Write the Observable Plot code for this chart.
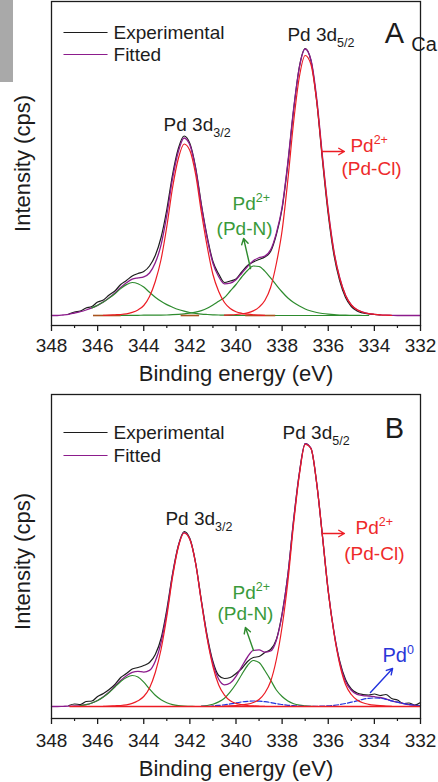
<!DOCTYPE html>
<html><head><meta charset="utf-8">
<script src="https://cdn.jsdelivr.net/npm/d3@7"></script>
<script src="https://cdn.jsdelivr.net/npm/@observablehq/plot@0.6"></script>
<style>
body{margin:0;background:#fff;}
#wrap{position:relative;width:438px;height:782px;overflow:hidden;font-family:"Liberation Sans",Arial,sans-serif;background:#fff;}
#wrap svg{display:block;}
#bar{position:absolute;left:0;top:0;width:13px;height:82px;background:#a9a9a9;}
</style></head><body><div id="wrap"><div id="bar"></div></div>
<script>
// ---------- data (binding energy grid, eV) ----------
const energy = [348,347.75,347.5,347.25,347,346.75,346.5,346.25,346,345.75,345.5,345.25,345,344.75,344.5,344.25,344,343.75,343.5,343.25,343,342.75,342.5,342.25,342,341.75,341.5,341.25,341,340.75,340.5,340.25,340,339.75,339.5,339.25,339,338.75,338.5,338.25,338,337.75,337.5,337.25,337,336.75,336.5,336.25,336,335.75,335.5,335.25,335,334.75,334.5,334.25,334,333.75,333.5,333.25,333,332.75,332.5,332.25,332];
const xTicks = [348,346,344,342,340,338,336,334,332];
const xTickLabels = ["348","346","344","342","340","338","336","334","332"];
const xMinorTicks = [347,345,343,341,339,337,335,333];

// Panel A
const fitA = [0,0,0.5,1.2,2.5,3.8,5.5,7.6,10.2,13.6,17.8,22.5,28,32.7,36.3,37.6,38.7,42.5,52.7,70.6,100.4,137,164,177.5,170.4,146.5,109.3,77.2,52.2,38.8,31.6,32.3,35.8,42.3,48.9,54.8,57.8,59.4,65.6,82.4,108.5,153.5,207,248.5,266.5,255.5,217,159,105.3,63.8,37.5,20.3,10.7,5.7,3.3,1.9,1.2,0.7,0.4,0.2,0,0,0,0,0];
const expAStart = 347.25;
const expA = [1.5,3.5,4.5,7.5,9,13.5,15.5,20.5,24.5,31,35,39.5,42,44,49.5,60,78,106,141,167,179.5,172,148,111,79,54,41.5,33,34.5,36.5,43.5,50,53.5,56,58.5,64,81,107,152,206,249,267,255,214,155,101,60,34.5,18,9,4.5,2.5,1.5,1,0.5];
const redA1Start = 345.75;
const redA1 = [0.2,0.4,0.7,1.0,1.7,3.1,5.6,10,19,34,56,89,128,157,171.5,165,141,103,69,41,24,13,7,3.8,2.2,1.3,0.7,0.4,0.2];
const redA2Start = 340.5;
const redA2 = [0.3,0.6,1.0,1.6,2.6,4.6,8.4,15,28,52,85,136,194,239,260,251,214,157,104,63,37,20,10.5,5.7,3.3,1.9,1.2,0.7,0.4,0.2];
const greenA1Start = 346.25;
const greenA1 = [7.6,10.2,13.4,17.4,21.8,26.9,30.9,33,31.8,28.4,23.2,18.3,14.2,10.9,8.3,6.0,4.3,3.0,2.1,1.4,1.0,0.7,0.5,0.3,0.2,0,0,0,0,0,0,0,0,0,0,0,0,0,0,0,0,0,0,0,0,0,0,0,0];
const greenA2Start = 345;
const greenA2 = [0.1,0.1,0.2,0.2,0.3,0.3,0.4,0.4,0.5,0.8,1.2,1.7,2.4,3.4,4.9,7.2,10.5,14.3,18,24.5,31,38.5,45,49.5,49,44.4,37.6,30.4,23.5,17.5,13,9.5,6.5,4.5,3,2,1.3,0.8,0.5,0.3,0.2,0.1,0,0];
const baseStartA = [346.2,342.4,339.6];
const baseEndA = [345.0,341.6,338.3];

// Panel B
const fitB = [0,0,0.2,0.4,0.5,0.8,1.8,3.5,6,9.7,14.4,20.2,26,30.7,34.1,35.2,34.4,36.1,45.2,63.8,93.8,131.4,160.4,173.9,167.2,143,105,69.2,42.8,27.2,21.7,23.5,30.1,39.9,49.5,56.1,56.6,54.3,55.5,66.3,92,131.7,186.6,233.7,262.8,258.3,223.2,170.4,115.7,74.2,43.9,25,16.3,12.1,10.9,10.4,9.8,9,7.7,5.6,4.3,3,1.9,1.2,0.7];
const expBStart = 347.25;
const expB = [1,2.5,2,5,5.5,10,13,17,22,29,33,37.5,39,41,44,52,68,97,133,161,175,168,143.5,106,71,45,31,28,29,33,38,45,49,50,54,57,67,93,132,187,234,263,258,223,170,115,74,45,27,17.5,13.5,12,11.5,12.5,11,12,8,6.5,3,3.5,1.5,4];
const redB1Start = 345.75;
const redB1 = [0.2,0.4,0.7,1.0,1.7,3.1,5.7,10,18.6,34,57,90,129.5,159.5,173.5,167,143,104.5,68,40,21.5,11.4,5.7,3.1,1.8,1,0.6,0.3,0.1];
const redB2Start = 340.5;
const redB2 = [0.3,0.6,1,1.5,2.3,4,7,13.5,25,47,80,125,183,232,262,258,223,170,115,73,42,22,12,6.5,3.7,2.2,1.3,0.8,0.5,0.2];
const greenB1Start = 346.75;
const greenB1 = [0.8,1.8,3.5,6,9.5,14,19.5,25,29,31,29.5,24.4,17.5,11.2,6.8,3.8,1.9,0.9,0.4,0.2,0];
const greenB2Start = 341.5;
const greenB2 = [0.4,1,2.2,4.6,8.3,14.6,22.5,32,41,46,44,36,26.5,16.5,10,5.5,2.8,1.3,0.6,0.2,0];
const blueBStart = 341.5;
const blueB = [0.1,0.2,0.6,1.1,1.7,2.6,3.5,4.6,5.2,5.5,5.3,4.8,4,2.8,2,1.2,0.8,0.4,0.2,0.1,0.2,0.4,0.7,1.2,1.9,3,4.3,5.6,7.2,8.2,8.5,8.2,7.2,5.6,4.3,3,1.9,1.2,0.7];

// ---------- styling ----------
const BLACK = "#1c1c1c", PURPLE = "#8c1c8c", RED = "#ec1c24", GREEN = "#2e8b2e",
      BLUE = "#2233dd", BROWN = "#a8541e";
const TXT_RED = "#ee2a2a", TXT_GREEN = "#3a9a3a", TXT_BLUE = "#2a36d8";
const FONT = "'Liberation Sans', Arial, sans-serif";

function series(start, vals) {
  const k = energy.indexOf(start);
  return vals.map((v, j) => ({e: energy[k + j], v}));
}

function applyScripts(svg) {
  svg.querySelectorAll("text").forEach(t => {
    const s = t.textContent;
    if (!/[_^]\{/.test(s)) return;
    const parts = s.split(/([_^]\{[^}]*\})/).filter(p => p);
    while (t.firstChild) t.removeChild(t.firstChild);
    let shift = 0;
    for (const p of parts) {
      const ts = document.createElementNS("http://www.w3.org/2000/svg", "tspan");
      const m = p.match(/^([_^])\{(.*)\}$/);
      if (m) {
        const d = m[1] === "_" ? 6 : -8;
        ts.setAttribute("dy", d - shift); shift = d;
        ts.setAttribute("font-size", "12.5");
        ts.textContent = m[2];
      } else {
        ts.setAttribute("dy", -shift); shift = 0;
        ts.textContent = p;
      }
      t.appendChild(ts);
    }
  });
}

function panel(cfg) {
  const ln = (data, stroke, w) => Plot.line(data, {x: "e", y: "v", stroke, strokeWidth: w, curve: "monotone-x"});
  const marks = [
    ln(cfg.exp, BLACK, 1.2),
    ln(cfg.fit, PURPLE, 1.3),
    ...cfg.comps,
    Plot.frame({stroke: BLACK, strokeWidth: 1.3}),
    Plot.axisX(xTicks, {anchor: "bottom", tickSize: 6, tickPadding: cfg.tickPad, fontSize: 19, strokeWidth: 1.3,
      label: null, tickFormat: d => xTickLabels[xTicks.indexOf(d)]}),
    Plot.axisX(xMinorTicks, {anchor: "bottom", tickSize: 3, strokeWidth: 1.2, label: null, tickFormat: () => ""}),
    Plot.text(["Binding energy (eV)"], {frameAnchor: "bottom", lineAnchor: "middle", textAnchor: "middle",
      dy: cfg.titleDy, fontSize: 22, fill: BLACK}),
    Plot.text(["Intensity (cps)"], {frameAnchor: "left", rotate: -90, textAnchor: "middle", lineAnchor: "middle",
      dx: -29, dy: cfg.yTitleDy, fontSize: 22, fill: BLACK}),
    // legend
    Plot.link([{y: cfg.legY[0], c: BLACK}, {y: cfg.legY[1], c: PURPLE}],
      {x1: 347.48, x2: 345.57, y1: "y", y2: "y", stroke: "c", strokeWidth: 1.2}),
    Plot.text([{y: cfg.legY[0], t: "Experimental"}, {y: cfg.legY[1], t: "Fitted"}],
      {x: 345.31, y: "y", text: "t", textAnchor: "start", fontSize: 19, fill: BLACK}),
    Plot.text(cfg.labels.filter(d => d.a === "start"), {x: "x", y: "y", text: "t", fill: "c", fontSize: "s", textAnchor: "start"}),
    Plot.text(cfg.labels.filter(d => d.a === "middle"), {x: "x", y: "y", text: "t", fill: "c", fontSize: "s", textAnchor: "middle"}),
    Plot.arrow(cfg.arrows, {x1: "x1", y1: "y1", x2: "x2", y2: "y2", stroke: "c", strokeWidth: 1.4, headLength: 7})
  ];
  const svg = Plot.plot({
    width: 438, height: cfg.height,
    marginLeft: 51, marginRight: 18, marginTop: cfg.mt, marginBottom: cfg.mb,
    x: {domain: [348, 332]},
    y: {domain: cfg.ydomain, axis: null},
    color: {type: "identity"},
    style: {fontFamily: FONT, color: BLACK, background: "transparent", overflow: "visible"},
    marks
  });
  applyScripts(svg);
  return svg;
}

const wrap = document.getElementById("wrap");

const svgA = panel({
  height: 390, mt: 1, mb: 65, ydomain: [-10, 314], tickPad: 7, titleDy: 48, yTitleDy: 0,
  fit: series(348, fitA), exp: series(expAStart, expA),
  comps: [
    Plot.line(series(greenA1Start, greenA1), {x: "e", y: "v", stroke: GREEN, strokeWidth: 1.2, curve: "monotone-x"}),
    Plot.line(series(greenA2Start, greenA2), {x: "e", y: "v", stroke: GREEN, strokeWidth: 1.2, curve: "monotone-x"}),
    Plot.link(baseStartA.map((s, i) => ({s, t: baseEndA[i]})), {x1: "s", x2: "t", y1: 0, y2: 0, stroke: BROWN, strokeWidth: 1.6}),
    Plot.line(series(redA1Start, redA1), {x: "e", y: "v", stroke: RED, strokeWidth: 1.2, curve: "monotone-x"}),
    Plot.line(series(redA2Start, redA2), {x: "e", y: "v", stroke: RED, strokeWidth: 1.2, curve: "monotone-x"})
  ],
  legY: [283, 261],
  labels: [
    {x: 337.77, y: 281, t: "Pd 3d_{5/2}", c: BLACK, s: 19, a: "start"},
    {x: 343.14, y: 191, t: "Pd 3d_{3/2}", c: BLACK, s: 19, a: "start"},
    {x: 333.55, y: 282, t: "A", c: BLACK, s: 29, a: "start"},
    {x: 332.40, y: 271, t: "Ca", c: BLACK, s: 20, a: "start"},
    {x: 335.04, y: 170, t: "Pd^{2+}", c: TXT_RED, s: 19, a: "start"},
    {x: 334.12, y: 147, t: "(Pd-Cl)", c: TXT_RED, s: 19, a: "middle"},
    {x: 340.15, y: 112, t: "Pd^{2+}", c: TXT_GREEN, s: 19, a: "start"},
    {x: 339.63, y: 87, t: "(Pd-N)", c: TXT_GREEN, s: 19, a: "middle"}
  ],
  arrows: [
    {x1: 336.25, y1: 164, x2: 335.3, y2: 164, c: RED},
    {x1: 339.37, y1: 47, x2: 339.67, y2: 77, c: GREEN}
  ]
});
wrap.appendChild(svgA);

const svgB = panel({
  height: 392, mt: 4, mb: 64, ydomain: [-12, 312], tickPad: 9, titleDy: 50, yTitleDy: 5,
  fit: series(348, fitB), exp: series(expBStart, expB),
  comps: [
    Plot.line(series(greenB1Start, greenB1), {x: "e", y: "v", stroke: GREEN, strokeWidth: 1.2, curve: "monotone-x"}),
    Plot.line(series(greenB2Start, greenB2), {x: "e", y: "v", stroke: GREEN, strokeWidth: 1.2, curve: "monotone-x"}),
    Plot.line(series(blueBStart, blueB), {x: "e", y: "v", stroke: BLUE, strokeWidth: 1.2, strokeDasharray: "5,2", curve: "monotone-x"}),
    Plot.line(series(redB1Start, redB1), {x: "e", y: "v", stroke: RED, strokeWidth: 1.2, curve: "monotone-x"}),
    Plot.line(series(redB2Start, redB2), {x: "e", y: "v", stroke: RED, strokeWidth: 1.2, curve: "monotone-x"}),
    Plot.ruleY([0], {x1: 347.2, x2: 332, stroke: RED, strokeWidth: 1.3})
  ],
  legY: [274, 251],
  labels: [
    {x: 337.98, y: 274, t: "Pd 3d_{5/2}", c: BLACK, s: 19, a: "start"},
    {x: 343.06, y: 188, t: "Pd 3d_{3/2}", c: BLACK, s: 19, a: "start"},
    {x: 333.55, y: 278, t: "B", c: BLACK, s: 29, a: "start"},
    {x: 334.82, y: 179, t: "Pd^{2+}", c: TXT_RED, s: 19, a: "start"},
    {x: 334.0, y: 153, t: "(Pd-Cl)", c: TXT_RED, s: 19, a: "middle"},
    {x: 340.15, y: 114, t: "Pd^{2+}", c: TXT_GREEN, s: 19, a: "start"},
    {x: 339.59, y: 93, t: "(Pd-N)", c: TXT_GREEN, s: 19, a: "middle"},
    {x: 333.65, y: 51, t: "Pd^{0}", c: TXT_BLUE, s: 20, a: "start"}
  ],
  arrows: [
    {x1: 336.25, y1: 173, x2: 335.3, y2: 173, c: RED},
    {x1: 339.24, y1: 56, x2: 339.59, y2: 79, c: GREEN},
    {x1: 334.17, y1: 14, x2: 333.21, y2: 38, c: BLUE}
  ]
});
wrap.appendChild(svgB);
</script>
</body></html>
